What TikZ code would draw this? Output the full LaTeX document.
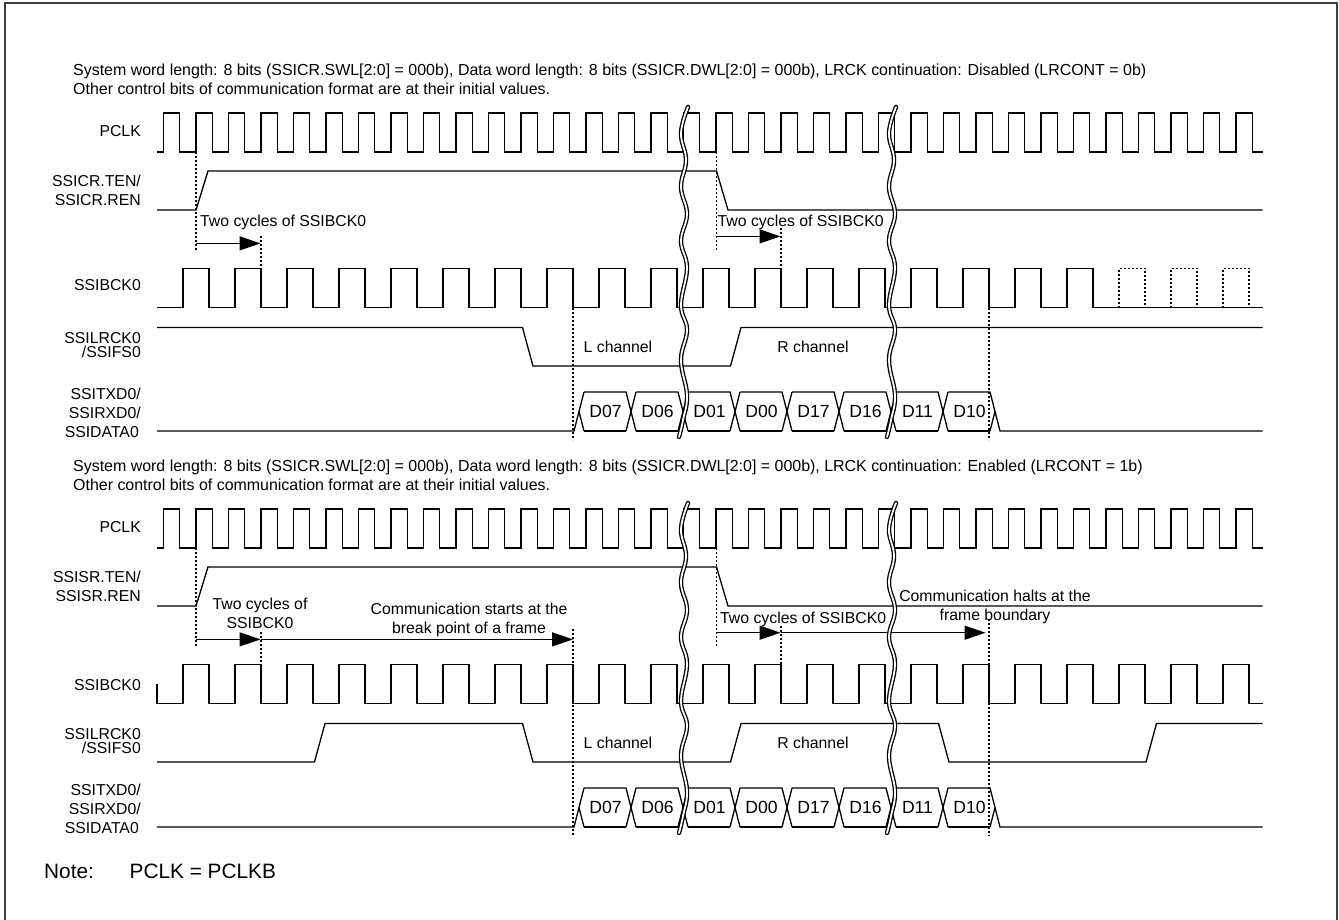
\documentclass[tikz,border=0pt]{standalone}
\usepackage{fontspec}
\setmainfont{Liberation Sans}
\usetikzlibrary{arrows.meta}
\newcommand{\fsMain}{\fontsize{15.8}{19}\selectfont}
\newcommand{\fsHead}{\fontsize{15.95}{18}\selectfont}
\newcommand{\fsData}{\fontsize{17.6}{20}\selectfont}
\newcommand{\fsNote}{\fontsize{20.8}{24}\selectfont}
\newcommand{\fsTight}{\fontsize{15.8}{13.5}\selectfont}
\tikzset{
  sig/.style={line width=1.3pt,line join=miter,black},
  dots/.style={line width=1.3pt,dash pattern=on 2pt off 2pt,black},
  arr/.style={line width=1.3pt,-{Triangle[length=21pt,width=14pt]},black},
  lbl/.style={inner sep=0pt,anchor=east,align=right,font=\fsMain},
  txt/.style={inner sep=0pt,align=center,font=\fsMain},
  txtl/.style={inner sep=0pt,anchor=west,font=\fsMain},
  hdr/.style={inner sep=0pt,anchor=west,align=left,font=\fsHead},
  dat/.style={inner sep=0pt,font=\fsData},
  brk/.style={line width=1.3pt,double=white,double distance=1.8pt,line cap=round,black},
  frm/.style={line width=1.3pt,black!75}
}
\newcommand{\pclkwave}[1]{%
  \draw[sig] (157,152+#1) foreach \k in {0,...,33} {
     -- ({163.5+32.5*\k},152+#1) -- ({163.5+32.5*\k},113+#1)
     -- ({179.8+32.5*\k},113+#1) -- ({179.8+32.5*\k},152+#1)} -- (1262.5,152+#1);}
\newcommand{\datarow}[2]{%
  \draw[sig] (157,431+#1) -- (574,431+#1) -- (584,392+#1);
  \draw[sig] (579,411.5+#1) -- (584,431+#1);
  \foreach \t/\n [count=\i] in {574/D07,626/D06,678/D01,730/D00,782/D17,834/D16,886/D11,938/D10} {
    \ifnum\i<8
      \draw[sig] ({\t+10},392+#1) -- ({\t+52},392+#1) -- ({\t+62},431+#1);
      \draw[sig] ({\t+52},431+#1) -- ({\t+62},392+#1);
    \else
      \draw[sig] ({\t+10},392+#1) -- ({\t+52},392+#1) -- ({\t+62},431+#1) -- (1262.5,431+#1);
      \draw[sig] ({\t+52},431+#1) -- ({\t+57},411.5+#1);
    \fi
    \draw[sig] ({\t+10},431+#1) -- ({\t+52},431+#1);
    \node[dat] (#2\n) at ({\t+31.5},411+#1) {\n};
  }}
\newcommand{\breaks}[1]{%
  \foreach \dx in {0,208} {
  \draw[brk] plot[smooth,tension=.7] coordinates {
    ({688+\dx},107+#1) ({681+\dx},133+#1) ({686+\dx},160+#1) ({681+\dx},187+#1)
    ({687+\dx},214+#1) ({681+\dx},241+#1) ({687+\dx},268+#1) ({681+\dx},305+#1)
    ({687+\dx},330+#1) ({681+\dx},360+#1) ({687+\dx},395+#1) ({683+\dx},420+#1)
    ({679+\dx},437+#1)};
  }}
\begin{document}
\begin{tikzpicture}[x=1pt,y=-1pt]
\useasboundingbox (0,0) rectangle (1339,920);
\fill[white] (0,0) rectangle (1339,920);
\draw[frm] (5,920) -- (5,3) -- (1337,3) -- (1337,920);

% ---------- upper panel ----------
\node[hdr] (h1) at (73,71) {System word length: 8 bits (SSICR.SWL[2:0] = 000b), Data word length: 8 bits (SSICR.DWL[2:0] = 000b), LRCK continuation: Disabled (LRCONT = 0b)};
\node[hdr] (h2) at (73,89) {Other control bits of communication format are at their initial values.};
\node[lbl] (la) at (141,131) {PCLK};
\node[lbl] (lb) at (141,190) {SSICR.TEN/\\SSICR.REN};
\node[lbl] (lc) at (141,285) {SSIBCK0};
\node[lbl,font=\fsTight] (ld) at (141,345) {SSILRCK0\\/SSIFS0};
\node[lbl,anchor=east] (le1) at (141,394) {SSITXD0/};
\node[lbl,anchor=east] (le2) at (141,413) {SSIRXD0/};
\node[lbl,anchor=east] (le3) at (139,432) {SSIDATA0};

\pclkwave{0}
\draw[sig] (157,210) -- (196,210) -- (208,171) -- (716.5,171) -- (728,210) -- (1262.5,210);
\draw[sig] (157,307.7) foreach \k in {0,...,17} {
   -- ({183+52*\k},307.7) -- ({183+52*\k},268.3) -- ({209+52*\k},268.3) -- ({209+52*\k},307.7)} -- (1262.5,307.7);
\foreach \k in {18,19,20} {
  \draw[dots] ({183+52*\k},307.7) -- ({183+52*\k},268.3) -- ({209+52*\k},268.3) -- ({209+52*\k},307.7);}
\draw[dots] (1093,307.7) -- (1262.5,307.7);
\draw[sig] (157,327.5) -- (522.5,327.5) -- (533,366) -- (730.5,366) -- (741,327.5) -- (1262.5,327.5);
\datarow{0}{a}

\coordinate (a0) at (196,152); \coordinate (a1) at (196,250);
\coordinate (a2) at (261,236); \coordinate (a3) at (261,268);
\coordinate (a4) at (716.5,152); \coordinate (a5) at (716.5,250);
\coordinate (a6) at (781,228); \coordinate (a7) at (781,268);
\coordinate (a8) at (573,308); \coordinate (a9) at (573,440);
\coordinate (a10) at (989,308); \coordinate (a11) at (989,440);
\draw[dots] (a0) -- (a1); \draw[dots] (a2) -- (a3); \draw[dots] (a4) -- (a5);
\draw[dots] (a6) -- (a7); \draw[dots] (a8) -- (a9); \draw[dots] (a10) -- (a11);
\coordinate (s1) at (196,243.4); \coordinate (e1) at (260.5,243.4);
\coordinate (s2) at (716.5,236.4); \coordinate (e2) at (780.5,236.4);
\draw[arr] (s1) -- (e1); \draw[arr] (s2) -- (e2);
\node[txtl] (t1) at (200,222.5) {Two cycles of SSIBCK0};
\node[txtl] (t2) at (717.5,222.5) {Two cycles of SSIBCK0};
\node[txt] (t3) at (618,346.5) {L channel};
\node[txt] (t4) at (813,346.5) {R channel};
\breaks{0}

% ---------- lower panel ----------
\node[hdr] (h3) at (73,467) {System word length: 8 bits (SSICR.SWL[2:0] = 000b), Data word length: 8 bits (SSICR.DWL[2:0] = 000b), LRCK continuation: Enabled (LRCONT = 1b)};
\node[hdr] (h4) at (73,485) {Other control bits of communication format are at their initial values.};
\node[lbl] (lf) at (141,527) {PCLK};
\node[lbl] (lg) at (141,586) {SSISR.TEN/\\SSISR.REN};
\node[lbl] (lh) at (141,685) {SSIBCK0};
\node[lbl,font=\fsTight] (li) at (141,741) {SSILRCK0\\/SSIFS0};
\node[lbl,anchor=east] (lj1) at (141,790) {SSITXD0/};
\node[lbl,anchor=east] (lj2) at (141,809) {SSIRXD0/};
\node[lbl,anchor=east] (lj3) at (139,828) {SSIDATA0};

\pclkwave{396}
\draw[sig] (157,606) -- (196,606) -- (208,567) -- (716.5,567) -- (728,606) -- (1262.5,606);
\draw[sig] (157,684) -- (157,703.7) foreach \k in {0,...,20} {
   -- ({183+52*\k},703.7) -- ({183+52*\k},664.3) -- ({209+52*\k},664.3) -- ({209+52*\k},703.7)} -- (1262.5,703.7);
\draw[sig] (157,762) -- (314.5,762) -- (325,723.5) -- (522.5,723.5) -- (533,762) -- (730.5,762)
   -- (741,723.5) -- (938.5,723.5) -- (949,762) -- (1146,762) -- (1156.5,723.5) -- (1262.5,723.5);
\datarow{396}{b}

\coordinate (b0) at (196,548); \coordinate (b1) at (196,646);
\coordinate (b2) at (261,632); \coordinate (b3) at (261,664);
\coordinate (b4) at (716.5,548); \coordinate (b5) at (716.5,646);
\coordinate (b6) at (781,626); \coordinate (b7) at (781,664);
\coordinate (b8) at (573,629); \coordinate (b9) at (573,836);
\coordinate (b10) at (989,619); \coordinate (b11) at (989,836);
\draw[dots] (b0) -- (b1); \draw[dots] (b2) -- (b3); \draw[dots] (b4) -- (b5);
\draw[dots] (b6) -- (b7); \draw[dots] (b8) -- (b9); \draw[dots] (b10) -- (b11);
\coordinate (s3) at (196,639.4); \coordinate (e3) at (260.5,639.4);
\coordinate (e4) at (573,639.4);
\coordinate (s5) at (716.5,632.7); \coordinate (e5) at (780.5,632.7);
\coordinate (e6) at (985.5,632.7);
\draw[arr] (e3) -- (e4); \draw[arr] (s3) -- (e3);
\draw[arr] (e5) -- (e6); \draw[arr] (s5) -- (e5);
\node[txt] (t5) at (260,613) {Two cycles of\\SSIBCK0};
\node[txt] (t6) at (469,619.5) {Communication starts at the\\break point of a frame};
\node[txtl] (t7) at (720,619) {Two cycles of SSIBCK0};
\node[txt] (t8) at (995,606.5) {Communication halts at the\\frame boundary};
\node[txt] (t9) at (618,742.5) {L channel};
\node[txt] (t10) at (813,742.5) {R channel};
\breaks{396}

\node[inner sep=0pt,anchor=west,font=\fsNote] (n1) at (44,871) {Note:};
\node[inner sep=0pt,anchor=west,font=\fsNote] (n2) at (129.5,871) {PCLK = PCLKB};
\end{tikzpicture}
\end{document}
